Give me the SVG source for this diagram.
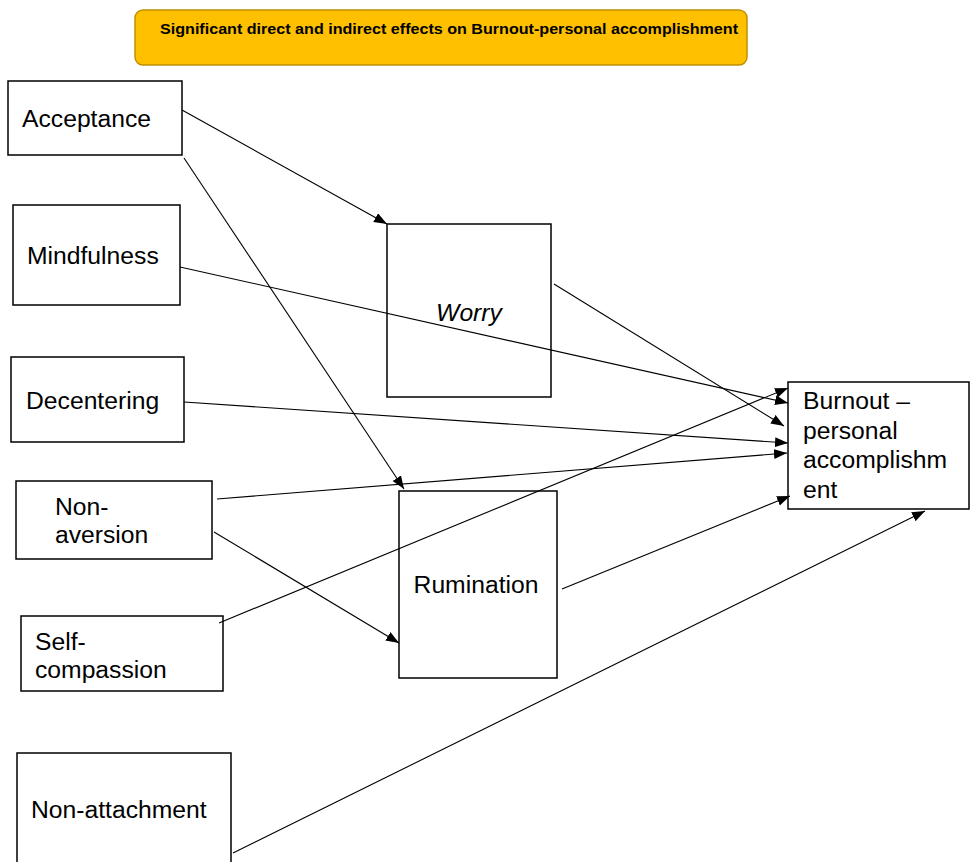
<svg xmlns="http://www.w3.org/2000/svg" width="971" height="862" viewBox="0 0 971 862">
<style>
.box{fill:#fff;stroke:#000;stroke-width:1.5}
.lbl{font-family:"Liberation Sans",Arial,sans-serif;font-size:24.7px;fill:#000}
.title{font-family:"Liberation Sans",Arial,sans-serif;font-size:15px;font-weight:bold;fill:#000}
.conn line{stroke:#000;stroke-width:1.1;fill:none;marker-end:url(#ah)}
</style>
<defs>
<marker id="ah" markerUnits="userSpaceOnUse" markerWidth="14" markerHeight="11" refX="13" refY="5" orient="auto">
<path d="M0,0 L13,5 L0,10 z" fill="#000"/>
</marker>
</defs>
<rect width="971" height="862" fill="#fff"/>
<g id="title">
<rect x="135" y="10" width="612" height="55" rx="8" fill="#FFC000" stroke="#BF9000" stroke-width="1.5"/>
<text class="title" x="160" y="34" textLength="578" lengthAdjust="spacingAndGlyphs">Significant direct and indirect effects on Burnout-personal accomplishment</text>
</g>
<g id="acceptance"><rect class="box" x="8" y="81" width="174" height="74"/><text class="lbl" x="22" y="127">Acceptance</text></g>
<g id="mindfulness"><rect class="box" x="13" y="205" width="167" height="100"/><text class="lbl" x="27" y="264">Mindfulness</text></g>
<g id="decentering"><rect class="box" x="11" y="357" width="173" height="85"/><text class="lbl" x="26" y="409">Decentering</text></g>
<g id="nonaversion"><rect class="box" x="16" y="481" width="196" height="78"/><text class="lbl" x="55" y="515">Non-</text><text class="lbl" x="55" y="543">aversion</text></g>
<g id="selfcompassion"><rect class="box" x="21" y="616" width="202" height="75"/><text class="lbl" x="35" y="650">Self-</text><text class="lbl" x="35" y="678">compassion</text></g>
<g id="nonattachment"><rect class="box" x="17" y="753" width="214" height="120"/><text class="lbl" x="31" y="818">Non-attachment</text></g>
<g id="worry"><rect class="box" x="387" y="224" width="164" height="173"/><text class="lbl" x="469" y="321" text-anchor="middle" font-style="italic">Worry</text></g>
<g id="rumination"><rect class="box" x="399" y="491" width="158" height="187"/><text class="lbl" x="476" y="593" text-anchor="middle">Rumination</text></g>
<g id="burnout"><rect class="box" x="788" y="382" width="181" height="127"/><text class="lbl" x="803" y="409">Burnout –</text><text class="lbl" x="803" y="439">personal</text><text class="lbl" x="803" y="468">accomplishm</text><text class="lbl" x="803" y="498">ent</text></g>
<g class="conn" id="connectors">
<line x1="182" y1="110" x2="387" y2="224"/>
<line x1="184" y1="158" x2="404" y2="489"/>
<line x1="180" y1="267" x2="788" y2="403"/>
<line x1="554" y1="284" x2="784" y2="426"/>
<line x1="184" y1="402" x2="788" y2="443"/>
<line x1="217" y1="499" x2="787" y2="453"/>
<line x1="214" y1="532" x2="399" y2="643"/>
<line x1="219" y1="623" x2="788" y2="388"/>
<line x1="562" y1="589" x2="790" y2="496"/>
<line x1="233" y1="853" x2="925" y2="511"/>
</g>
</svg>
